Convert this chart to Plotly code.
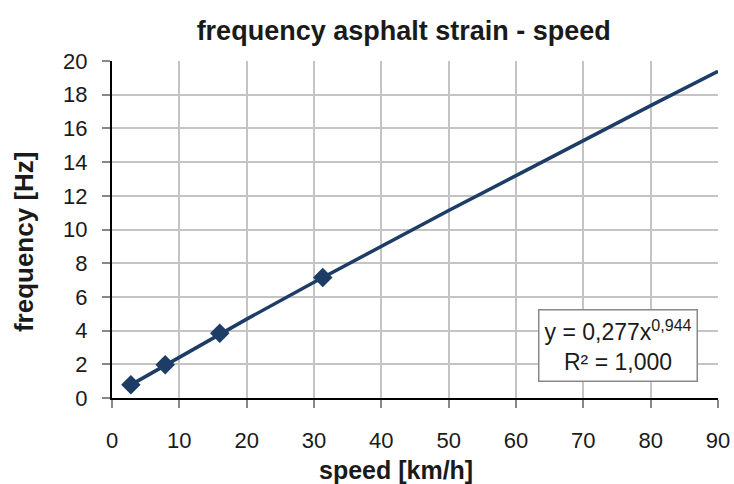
import plotly.graph_objects as go

speed = [2.8, 7.9, 16.0, 31.3]
freq = [0.78, 1.97, 3.85, 7.15]

trend_x = [2.8, 10, 20, 30, 40, 50, 60, 70, 80, 90]
trend_y = [0.78, 2.43, 4.68, 6.87, 9.01, 11.13, 13.2, 15.29, 17.35, 19.39]

x_ticks = [0, 10, 20, 30, 40, 50, 60, 70, 80, 90]
y_ticks = [0, 2, 4, 6, 8, 10, 12, 14, 16, 18, 20]

navy = "#1d3c66"
font_main = "Liberation Sans, Arial, sans-serif"

fig = go.Figure()
fig.add_trace(go.Scatter(x=trend_x, y=trend_y, mode="lines",
                         line=dict(color=navy, width=3.5), showlegend=False, hoverinfo="skip"))
fig.add_trace(go.Scatter(x=speed, y=freq, mode="markers",
                         marker=dict(symbol="diamond", size=15, color=navy), showlegend=False))

fig.update_layout(
    width=734, height=484,
    margin=dict(l=112, r=16, t=61, b=86),
    paper_bgcolor="white", plot_bgcolor="white",
    font=dict(family=font_main, size=22, color="#1a1a1a"),
    title=dict(text="<b>frequency asphalt strain - speed</b>", x=0.55, xanchor="center",
               y=0.936, yanchor="middle",
               font=dict(family="Liberation Sans Narrow, Liberation Sans, Arial", size=27, color="#1a1a1a")),
    xaxis=dict(range=[0, 90], tickvals=x_ticks, showgrid=True, gridcolor="#c4c4c4", gridwidth=2,
               showline=True, linecolor="black", linewidth=2, ticks="outside", ticklen=8,
               tickcolor="#888", tickwidth=1.5, zeroline=False, tickfont=dict(size=22),
               ticklabelstandoff=14, automargin=False),
    yaxis=dict(range=[0, 20], tickvals=y_ticks, showgrid=True, gridcolor="#c4c4c4", gridwidth=2,
               showline=True, linecolor="black", linewidth=2, ticks="outside", ticklen=8,
               tickcolor="#888", tickwidth=1.5, zeroline=False, tickfont=dict(size=22),
               ticklabelstandoff=10, automargin=False),
    annotations=[
        dict(x=0.967, y=0.047, xref="paper", yref="paper", xanchor="right", yanchor="bottom",
             text="y = 0,277x<sup>0,944</sup><br>R² = 1,000", showarrow=False, align="center",
             font=dict(size=23, color="#1a1a1a"), bgcolor="white", bordercolor="#888",
             borderwidth=1.5, borderpad=5),
        dict(x=0.4686, y=-0.166, xref="paper", yref="paper", xanchor="center", yanchor="top",
             text="<b>speed [km/h]</b>", showarrow=False, font=dict(size=25, color="#1a1a1a")),
        dict(x=-0.145, y=0.463, xref="paper", yref="paper", xanchor="center", yanchor="middle",
             text="<b>frequency [Hz]</b>", showarrow=False, textangle=-90,
             font=dict(size=26, color="#1a1a1a")),
    ]
)

fig.write_html("out.html")
